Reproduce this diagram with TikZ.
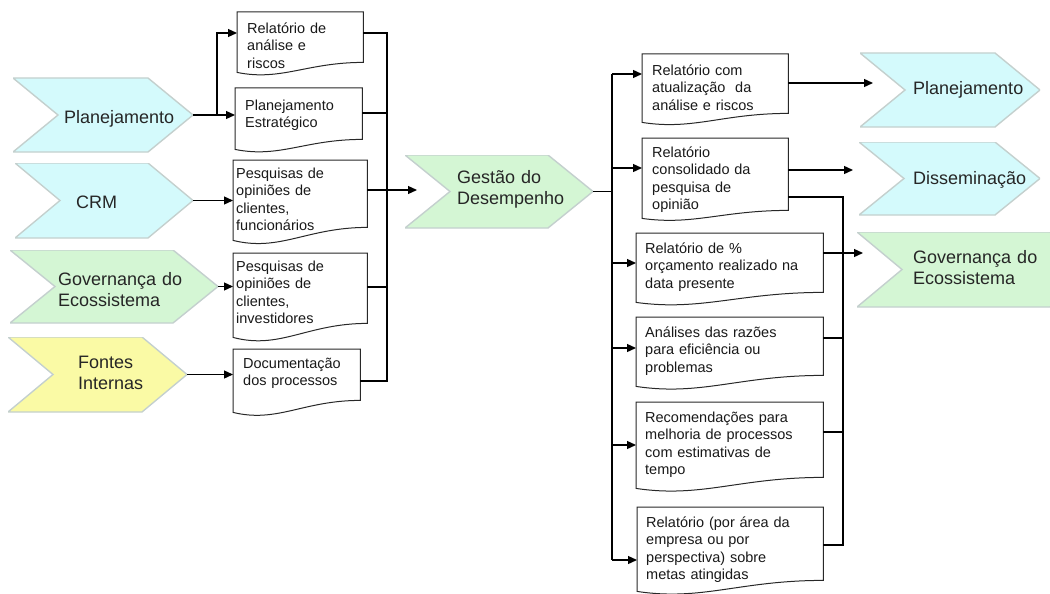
\documentclass[tikz,border=0pt]{standalone}
\usepackage{fontspec}
\setmainfont{Liberation Sans}
\usetikzlibrary{arrows.meta,calc}

\definecolor{cyanfill}{RGB}{212,250,252}
\definecolor{greenfill}{RGB}{212,246,212}
\definecolor{yellowfill}{RGB}{250,250,165}
\definecolor{chevedge}{RGB}{196,208,206}
\definecolor{docedgecol}{RGB}{40,40,40}

% outline of a flowchart "document": straight top and sides, wavy bottom
\newcommand\docedge[2]{%
  \draw[docline] (#1.north west) -- (#1.north east) -- (#1.south east)
    .. controls ($(#1.south west)!0.55!(#1.south east)$)
       and ($(#1.south west)!0.35!(#1.south east)+(0,1.9*#2)$)
    .. ($(#1.south west)+(0,#2)$) -- cycle;}

\begin{document}
\begin{tikzpicture}[x=1pt,y=-1pt,
  chev/.style={rectangle, inner sep=0pt, outer sep=0pt, anchor=north west,
    path picture={
      \path[fill=#1, draw=chevedge, line width=1.4pt]
        (path picture bounding box.north west)
        -- ([xshift=-45pt]path picture bounding box.north east)
        -- (path picture bounding box.east)
        -- ([xshift=-45pt]path picture bounding box.south east)
        -- (path picture bounding box.south west)
        -- ([xshift=45pt]path picture bounding box.west) -- cycle;}},
  chevtext/.style={anchor=base west, inner sep=0pt, align=left, text width=150pt,
    font=\fontsize{18}{21}\selectfont, text=black!85},
  doc/.style n args={4}{anchor=north west, inner ysep=0pt, inner xsep=#2pt,
    text width=#1pt, text height=#3pt, text depth=#4pt, align=left,
    font=\fontsize{14.5}{17.5}\selectfont, text=black!90},
  docline/.style={draw=docedgecol, line width=1pt},
  conn/.style={draw=black, line width=1.3pt},
  arr/.style={conn, -{Triangle[length=9pt,width=8pt]}},
]
\useasboundingbox (0,0) rectangle (1050,594);
\clip (0,0) rectangle (1050,594);
\fill[white] (0,0) rectangle (1050,594);

% ---------- input chevrons ----------
\node[chev=cyanfill,   minimum width=180pt, minimum height=74pt] (cPlanL) at (13,78) {};
\node[chev=cyanfill,   minimum width=178pt, minimum height=75pt] (cCRM)   at (15,163) {};
\node[chev=greenfill,  minimum width=208pt, minimum height=73pt] (cGovL)  at (10,250) {};
\node[chev=yellowfill, minimum width=179pt, minimum height=75pt] (cFont)  at (8,337) {};
\node[chevtext] (tPlanL) at (64,123)  {Planejamento};
\node[chevtext] (tCRM)   at (76,208)  {CRM};
\node[chevtext] (tGovL)  at (58,285)  {Governança do\\Ecossistema};
\node[chevtext] (tFont)  at (78,368)  {Fontes\\Internas};

% ---------- central chevron ----------
\node[chev=greenfill, minimum width=188pt, minimum height=73pt] (cGest) at (405,155) {};
\node[chevtext] (tGest) at (457,183) {Gestão do\\Desempenho};

% ---------- output chevrons ----------
\node[chev=cyanfill,  minimum width=180pt, minimum height=74pt] (cPlanR) at (860,53) {};
\node[chev=cyanfill,  minimum width=181pt, minimum height=73pt] (cDis)   at (859,142) {};
\node[chev=greenfill, minimum width=238pt, minimum height=75pt] (cGovR)  at (857,232) {};
\node[chevtext] (tPlanR) at (913,95)  {Planejamento};
\node[chevtext] (tDis)   at (913,184) {Disseminação};
\node[chevtext] (tGovR)  at (913,263) {Governança do\\Ecossistema};

% ---------- left documents ----------
\node[doc={106}{10}{21}{29}] (dRel)   at (237,12)  {Relatório de\\análise e\\riscos};
\node[doc={107}{10}{22}{29}] (dPlan)  at (235,88)  {Planejamento\\Estratégico};
\node[doc={128}{3}{18}{49}]  (dPesqA) at (233,160) {Pesquisas de\\opiniões de\\clientes,\\funcionários};
\node[doc={128}{3}{18}{52}]  (dPesqB) at (233,253) {Pesquisas de\\opiniões de\\clientes,\\investidores};
\node[doc={107}{10}{19}{32}] (dDoc)   at (233,349) {Documentação\\dos processos};
\docedge{dRel}{10}
\docedge{dPlan}{10}
\docedge{dPesqA}{13}
\docedge{dPesqB}{14}
\docedge{dDoc}{12}

% ---------- right documents ----------
\node[doc={126}{10}{21}{38}] (rA) at (642,54)  {Relatório com\\atualização\ \ da\\análise e riscos};
\node[doc={126}{10}{19}{53}] (rB) at (642,138) {Relatório\\consolidado da\\pesquisa de\\opinião};
\node[doc={169}{9}{20}{39}]  (rC) at (636,233) {Relatório de \%\\orçamento realizado na\\data presente};
\node[doc={169}{9}{20}{38}]  (rD) at (636,317) {Análises das razões\\para eficiência ou\\problemas};
\node[doc={169}{9}{20}{55}]  (rE) at (636,402) {Recomendações para\\melhoria de processos\\com estimativas de\\tempo};
\node[doc={168}{9}{20}{53}]  (rF) at (637,507) {Relatório (por área da\\empresa ou por\\perspectiva) sobre\\metas atingidas};
\docedge{rA}{9}
\docedge{rB}{8}
\docedge{rC}{10}
\docedge{rD}{11}
\docedge{rE}{11}
\docedge{rF}{11}

% ---------- inputs to left documents ----------
\coordinate (jPlan) at ([xshift=24pt]cPlanL.east);
\coordinate (d1in)  at ([yshift=-21pt]dRel.north west);
\draw[arr] (cPlanL.east) -- (cPlanL.east -| dPlan.west);
\draw[arr] (jPlan) |- (d1in);
\draw[arr] (cCRM.east)  -- (cCRM.east -| dPesqA.west);
\draw[arr] (cGovL.east) -- (cGovL.east -| dPesqB.west);
\draw[arr] (cFont.east) -- (cFont.east -| dDoc.west);

% ---------- left collector bus into the central chevron ----------
\coordinate (lbus)  at (387,0);
\coordinate (d1out) at ([yshift=-21pt]dRel.north east);
\coordinate (d2out) at ([yshift=-25pt]dPlan.north east);
\coordinate (d3out) at ([yshift=-30pt]dPesqA.north east);
\coordinate (d4out) at ([yshift=-34pt]dPesqB.north east);
\coordinate (d5out) at ([yshift=-32pt]dDoc.north east);
\coordinate (gin)   at ([xshift=12pt]cGest.west);
\draw[conn] (d1out) -- (d1out -| lbus) -- (d5out -| lbus) -- (d5out);
\draw[conn] (d2out) -- (d2out -| lbus);
\draw[conn] (d4out) -- (d4out -| lbus);
\draw[arr]  (d3out) -- (d3out -| gin);

% ---------- distribution bus to right documents ----------
\coordinate (rbus) at (612,0);
\coordinate (r1in) at ([yshift=-20pt]rA.north west);
\coordinate (r2in) at ([yshift=-30pt]rB.north west);
\coordinate (r3in) at ([yshift=-30pt]rC.north west);
\coordinate (r4in) at ([yshift=-31pt]rD.north west);
\coordinate (r5in) at ([yshift=-43pt]rE.north west);
\coordinate (r6in) at ([yshift=-53pt]rF.north west);
\draw[conn] (cGest.east) -- (cGest.east -| rbus);
\draw[conn] (r1in -| rbus) -- (r6in -| rbus);
\draw[arr] (r1in -| rbus) -- (r1in);
\draw[arr] (r2in -| rbus) -- (r2in);
\draw[arr] (r3in -| rbus) -- (r3in);
\draw[arr] (r4in -| rbus) -- (r4in);
\draw[arr] (r5in -| rbus) -- (r5in);
\draw[arr] (r6in -| rbus) -- (r6in);

% ---------- outputs ----------
\coordinate (gbus)  at (843,0);
\coordinate (r1out) at ([yshift=-29pt]rA.north east);
\coordinate (r2out) at ([yshift=-32pt]rB.north east);
\coordinate (r2tap) at ([yshift=-59pt]rB.north east);
\coordinate (r3out) at ([yshift=-20pt]rC.north east);
\coordinate (r4out) at ([yshift=-21pt]rD.north east);
\coordinate (r5out) at ([yshift=-30pt]rE.north east);
\coordinate (r6out) at ([yshift=-38pt]rF.north east);
\draw[arr, shorten >=-13pt] (r1out) -- (r1out -| cPlanR.west);
\draw[arr, shorten >=6pt]   (r2out) -- (r2out -| cDis.west);
\draw[arr, shorten >=-6pt]  (r3out) -- (r3out -| cGovR.west);
\draw[conn] (r2tap) -- (r2tap -| gbus) -- (r6out -| gbus) -- (r6out);
\draw[conn] (r4out) -- (r4out -| gbus);
\draw[conn] (r5out) -- (r5out -| gbus);
\end{tikzpicture}
\end{document}
